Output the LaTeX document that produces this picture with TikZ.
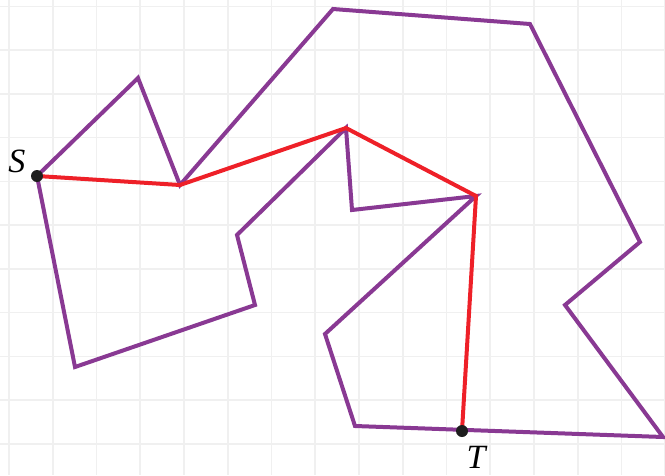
\documentclass[tikz,border=0pt]{standalone}
\usepackage{fontspec}
\setmainfont{Liberation Serif}
\definecolor{gridgray}{RGB}{240,240,240}
\definecolor{polypurple}{RGB}{137,57,147}
\definecolor{pathred}{RGB}{238,32,40}
\definecolor{dotblack}{RGB}{30,30,30}
\tikzset{
  gridline/.style={draw=gridgray, line width=1.6pt},
  polyline/.style={draw=polypurple, line width=4pt},
  redline/.style={draw=pathred, line width=4pt},
  dotnode/.style={circle, fill=dotblack, inner sep=0pt, minimum size=12pt},
  lbl/.style={font=\fontsize{34}{34}\selectfont\itshape, inner sep=0pt}
}
\begin{document}
\begin{tikzpicture}[x=1pt,y=-1pt]
\useasboundingbox (0,0) rectangle (665,475);
\foreach \i in {0,...,15} {
  \draw[gridline] ({9+43.75*\i},0) -- ({9+43.75*\i},475);
}
\foreach \j in {0,...,10} {
  \draw[gridline] (0,{6.4+43.75*\j}) -- (665,{6.4+43.75*\j});
}
\coordinate (S) at (37,176);
\coordinate (A) at (138,78);
\coordinate (B) at (180,185);
\coordinate (C) at (333,9);
\coordinate (D) at (530,24);
\coordinate (E) at (640,242);
\coordinate (F) at (565,305);
\coordinate (G) at (663,437);
\coordinate (H) at (355,426);
\coordinate (I) at (325,334);
\coordinate (J) at (476,196);
\coordinate (K) at (352,210);
\coordinate (L) at (346,128);
\coordinate (M) at (237,235);
\coordinate (N) at (255,305);
\coordinate (O) at (75,367);
\coordinate (T) at (462,431);
\draw[polyline] (S) -- (A) -- (B) -- (C) -- (D) -- (E) -- (F) -- (G) -- (H) -- (I) -- (J) -- (K) -- (L) -- (M) -- (N) -- (O) -- cycle;
\draw[redline] (S) -- (B) -- (L) -- (J) -- (T);
\node[dotnode] (Sdot) at (S) {};
\node[dotnode] (Tdot) at (T) {};
\node[lbl] (Slbl) at (17,161) {S};
\node[lbl] (Tlbl) at (476,457) {T};
\end{tikzpicture}
\end{document}
